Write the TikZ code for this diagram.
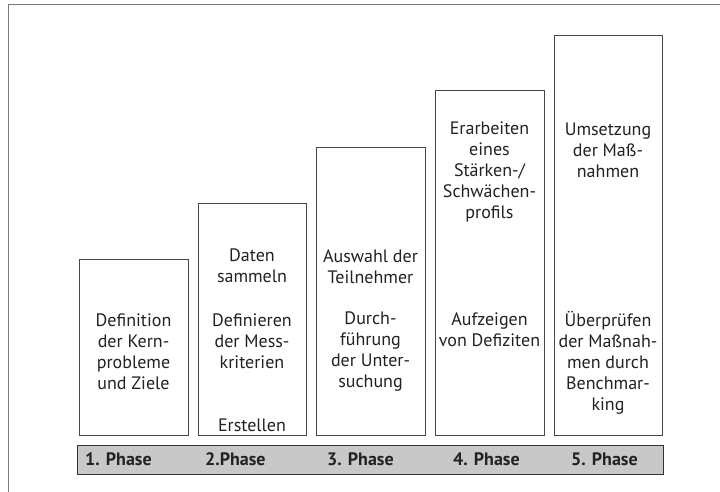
\documentclass[tikz,border=0pt]{standalone}
\usepackage{fontspec}
\setmainfont{PT Sans}
\definecolor{rahmen}{HTML}{7A7A7A}
\definecolor{kasten}{HTML}{474747}
\definecolor{balken}{HTML}{C8C8C8}
\definecolor{schrift}{HTML}{222222}
\tikzset{
  phasebox/.style={draw=kasten,line width=0.9pt,fill=white,inner sep=0pt,outer sep=0pt,anchor=south west},
  boxtext/.style={align=center,text=schrift,inner sep=0pt,font=\fontsize{18}{21}\selectfont},
  phasebar/.style={draw=black!80,line width=1pt,fill=balken,inner sep=0pt,anchor=north west,
    minimum width=586pt,minimum height=29pt},
  phaselabel/.style={anchor=west,inner sep=0pt,text=schrift,font=\fontsize{18}{21}\selectfont\bfseries}
}
\begin{document}
\begin{tikzpicture}[x=1pt,y=-1pt]
\useasboundingbox (0,0) rectangle (720,492);
\fill[white] (0,0) rectangle (720,492);
\draw[rahmen,line width=1pt] (8,492) -- (8,5) -- (720,5);
% die fuenf Stufen
\foreach \i/\xa/\w/\h in {1/79/109/176, 2/198/108/232, 3/316/109/288, 4/435/109/345, 5/554/108/400} {
\node[phasebox,minimum width=\w pt,minimum height=\h pt] (box\i) at (\xa,435) {};
}
\node[boxtext] (def) at (133.5,351.5) {Definition\\der Kern-\\probleme\\und Ziele};
\node[boxtext] (daten) at (252,265.5) {Daten\\sammeln};
\node[boxtext] (mess) at (252,341) {Definieren\\der Mess-\\kriterien};
\node[boxtext] (erst) at (252,425) {Erstellen};
\node[boxtext] (ausw) at (370.5,267) {Auswahl der\\Teilnehmer};
\node[boxtext] (durch) at (370.5,351.5) {Durch-\\führung\\der Unter-\\suchung};
\node[boxtext] (profil) at (489.5,171.5) {Erarbeiten\\eines\\Stärken-/\\Schwächen-\\profils};
\node[boxtext] (defiz) at (489.5,330) {Aufzeigen\\von Defiziten};
\node[boxtext] (umsetz) at (608,150) {Umsetzung\\der Maß-\\nahmen};
\node[boxtext] (bench) at (608,362.5) {Überprüfen\\der Maßnah-\\men durch\\Benchmar-\\king};
% Phasenleiste
\node[phasebar] (bar) at (77,445) {};
\node[phaselabel] (p1) at (85,459.5) {1. Phase};
\node[phaselabel] (p2) at (205,459.5) {2.Phase};
\node[phaselabel] (p3) at (327,459.5) {3. Phase};
\node[phaselabel] (p4) at (453,459.5) {4. Phase};
\node[phaselabel] (p5) at (571,459.5) {5. Phase};
\end{tikzpicture}
\end{document}
